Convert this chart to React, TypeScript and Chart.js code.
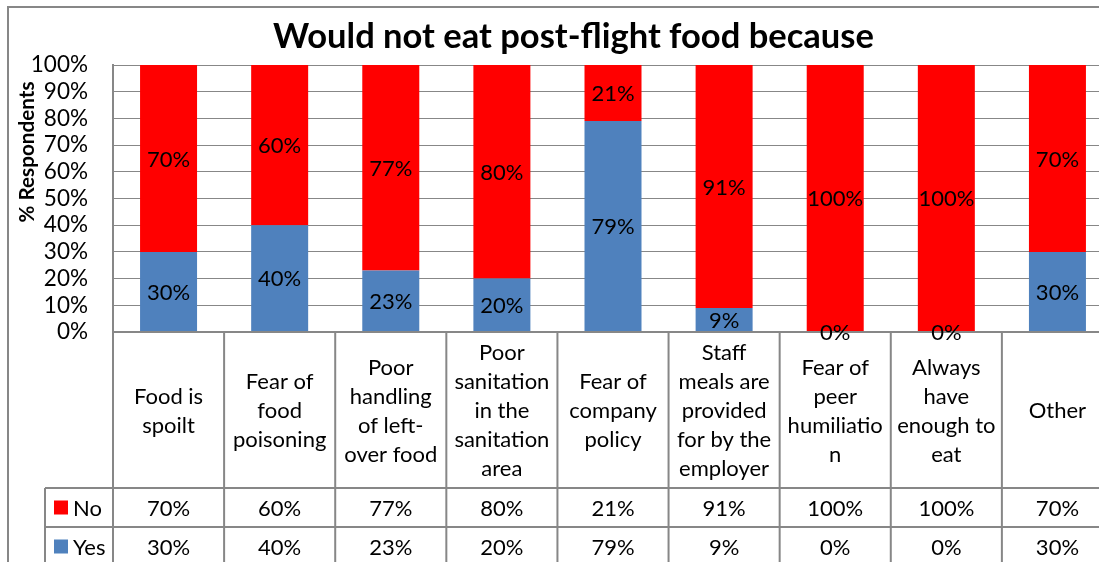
import React, { useEffect, useRef } from "react";
import { Chart, registerables } from "chart.js";

Chart.register(...registerables);

const TITLE = "Would not eat post-flight food because";
const AXIS_TITLE = "% Respondents";
const categories: string[][] = [
  ["Food is", "spoilt"],
  ["Fear of", "food", "poisoning"],
  ["Poor", "handling", "of left-", "over food"],
  ["Poor", "sanitation", "in the", "sanitation", "area"],
  ["Fear of", "company", "policy"],
  ["Staff", "meals are", "provided", "for by the", "employer"],
  ["Fear of", "peer", "humiliatio", "n"],
  ["Always", "have", "enough to", "eat"],
  ["Other"],
];
const seriesNames = ["No", "Yes"];
const noValues = [70, 60, 77, 80, 21, 91, 100, 100, 70];
const yesValues = [30, 40, 23, 20, 79, 9, 0, 0, 30];
const yTickStep = 10;
const yMax = 100;

const RED = "#FF0000";
const BLUE = "#4F81BD";
const GRID = "#878787";
const FONT = '"Lato", "Open Sans", sans-serif';

const CANVAS_W = 1140;
const CANVAS_H = 562;

function fitSize(ctx: CanvasRenderingContext2D, text: string, weight: string, target: number) {
  ctx.font = `${weight} 100px ${FONT}`;
  const w = ctx.measureText(text).width;
  return (100 * target) / w;
}

const decorPlugin = {
  id: "decor",
  afterDraw(chart: any) {
    const ctx: CanvasRenderingContext2D = chart.ctx;
    const area = chart.chartArea;
    const xs = chart.scales.x;
    const n = categories.length;
    const catW = (area.right - area.left) / n;
    const labelBottom = 488;
    const rowMid = 527;
    const rowBottom = 566;
    const legendLeft = 45;

    ctx.save();
    // outer chart border
    ctx.strokeStyle = GRID;
    ctx.lineWidth = 2;
    ctx.beginPath();
    ctx.moveTo(8, CANVAS_H + 5);
    ctx.lineTo(8, 7);
    ctx.lineTo(CANVAS_W + 5, 7);
    ctx.stroke();

    // title
    const tSize = fitSize(ctx, TITLE, "bold", 601);
    ctx.font = `bold ${tSize}px ${FONT}`;
    ctx.fillStyle = "#000";
    ctx.textAlign = "center";
    ctx.textBaseline = "alphabetic";
    ctx.fillText(TITLE, 573.5, 48);

    // axis title
    const aSize = fitSize(ctx, AXIS_TITLE, "bold", 141);
    ctx.save();
    ctx.translate(27, 152);
    ctx.rotate(-Math.PI / 2);
    ctx.font = `bold ${aSize}px ${FONT}`;
    ctx.textBaseline = "middle";
    ctx.fillText(AXIS_TITLE, 0, 0);
    ctx.restore();

    // table lines
    ctx.strokeStyle = GRID;
    ctx.lineWidth = 2;
    ctx.beginPath();
    ctx.moveTo(area.left, area.bottom);
    ctx.lineTo(CANVAS_W, area.bottom);
    ctx.moveTo(legendLeft, labelBottom);
    ctx.lineTo(CANVAS_W, labelBottom);
    ctx.moveTo(legendLeft, rowMid);
    ctx.lineTo(CANVAS_W, rowMid);
    ctx.moveTo(legendLeft, rowBottom);
    ctx.lineTo(CANVAS_W, rowBottom);
    ctx.moveTo(legendLeft, labelBottom);
    ctx.lineTo(legendLeft, CANVAS_H + 10);
    for (let i = 0; i <= n; i++) {
      const x = area.left + i * catW;
      ctx.moveTo(x, area.bottom);
      ctx.lineTo(x, CANVAS_H + 10);
    }
    ctx.stroke();

    // category labels
    ctx.fillStyle = "#000";
    ctx.font = `22px ${FONT}`;
    ctx.textAlign = "center";
    ctx.textBaseline = "middle";
    const labelMid = (area.bottom + labelBottom) / 2;
    const lh = 29;
    categories.forEach((lines, i) => {
      const cx = xs.getPixelForValue(i);
      lines.forEach((ln, j) => {
        ctx.fillText(ln, cx, labelMid + (j - (lines.length - 1) / 2) * lh + 1);
      });
    });

    // value rows
    const rows = [
      { name: seriesNames[0], vals: noValues, color: RED, y: (labelBottom + rowMid) / 2 },
      { name: seriesNames[1], vals: yesValues, color: BLUE, y: (rowMid + rowBottom) / 2 },
    ];
    rows.forEach((r) => {
      ctx.textAlign = "center";
      r.vals.forEach((v, i) => {
        ctx.fillText(v + "%", xs.getPixelForValue(i), r.y + 1);
      });
      ctx.fillStyle = r.color;
      ctx.fillRect(54, r.y - 7, 14, 14);
      ctx.fillStyle = "#000";
      ctx.textAlign = "left";
      ctx.fillText(r.name, 73, r.y + 1);
    });

    // data labels (on top)
    ctx.fillStyle = "#000";
    ctx.font = `22px ${FONT}`;
    ctx.textAlign = "center";
    ctx.textBaseline = "middle";
    chart.data.datasets.forEach((ds: any, di: number) => {
      const meta = chart.getDatasetMeta(di);
      meta.data.forEach((el: any, i: number) => {
        const cy = (el.y + el.base) / 2;
        ctx.fillText(ds.data[i] + "%", el.x, cy + 1);
      });
    });
    ctx.restore();
  },
};

export default function App() {
  const ref = useRef<HTMLCanvasElement | null>(null);
  useEffect(() => {
    if (!ref.current) return;
    const chart = new Chart(ref.current, {
      type: "bar",
      data: {
        labels: categories.map((c) => c.join(" ")),
        datasets: [
          {
            label: seriesNames[1],
            data: yesValues,
            backgroundColor: BLUE,
            barPercentage: 0.513,
            categoryPercentage: 1,
          },
          {
            label: seriesNames[0],
            data: noValues,
            backgroundColor: RED,
            barPercentage: 0.513,
            categoryPercentage: 1,
          },
        ],
      },
      options: {
        animation: false,
        responsive: false,
        devicePixelRatio: 1,
        layout: { padding: { left: 0, top: 65, right: CANVAS_W - 1113, bottom: CANVAS_H - 332 } },
        plugins: {
          legend: { display: false },
          title: { display: false },
          tooltip: { enabled: false },
        },
        scales: {
          x: { stacked: true, display: false },
          y: {
            stacked: true,
            min: 0,
            max: yMax,
            afterFit: (scale: any) => {
              scale.width = 113;
            },
            ticks: {
              stepSize: yTickStep,
              autoSkip: false,
              callback: (v: any) => v + "%",
              color: "#000",
              font: { family: FONT, size: 22.5 },
              padding: 25,
            },
            grid: { color: GRID, lineWidth: 1, drawTicks: false },
            border: { display: true, color: GRID, width: 2 },
          },
        },
      },
      plugins: [decorPlugin],
    } as any);
    return () => chart.destroy();
  }, []);
  return (
    <div style={{ position: "fixed", left: 0, top: 0, width: 1099, height: 562, overflow: "hidden", background: "#fff" }}>
      <canvas ref={ref} width={CANVAS_W} height={CANVAS_H} style={{ display: "block", width: CANVAS_W, height: CANVAS_H }} />
    </div>
  );
}
